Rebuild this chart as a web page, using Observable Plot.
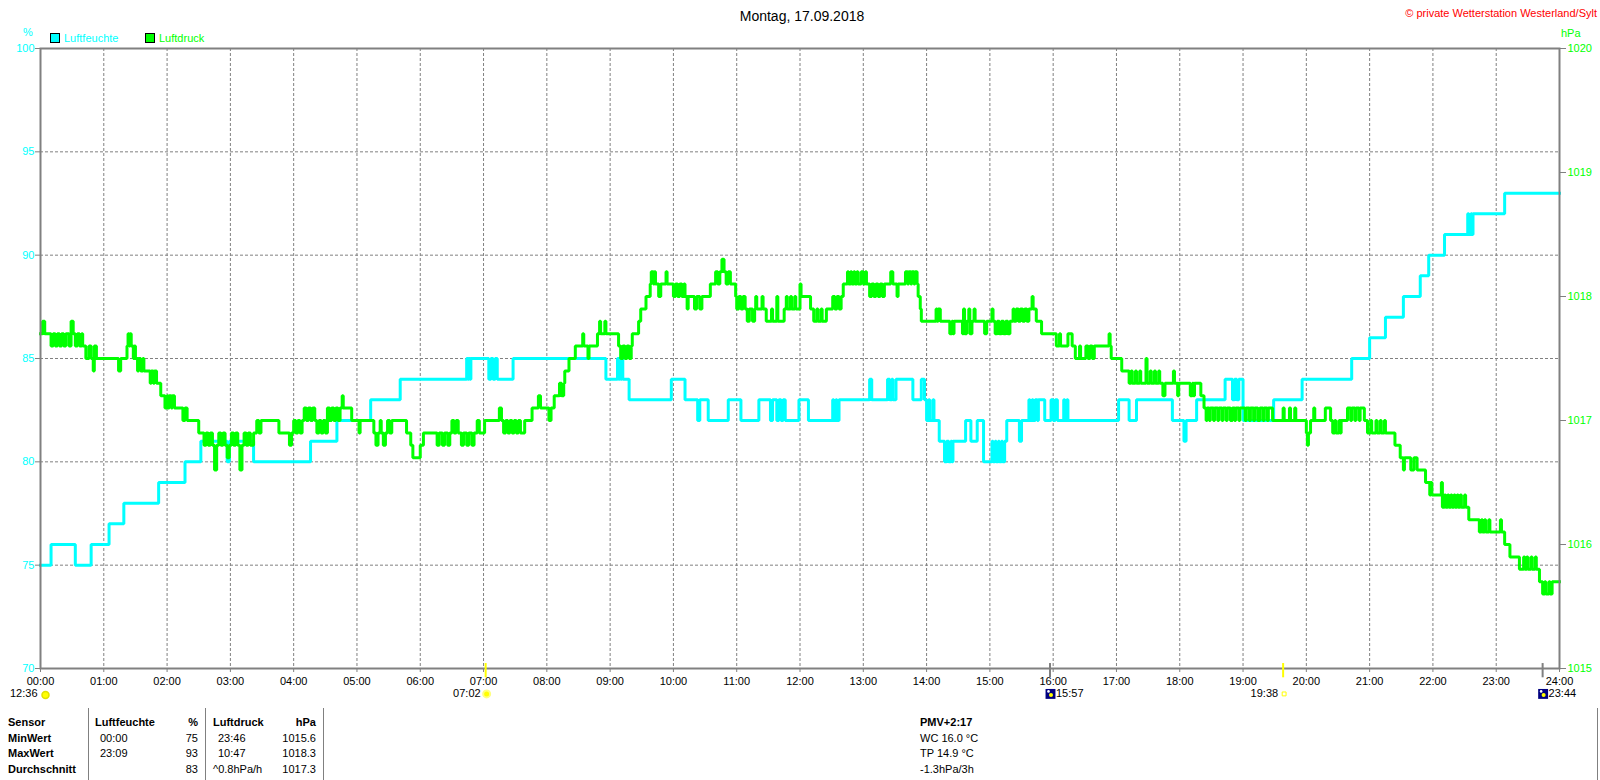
<!DOCTYPE html>
<html>
<head>
<meta charset="utf-8">
<script src="https://cdn.jsdelivr.net/npm/d3@7"></script>
<script src="https://cdn.jsdelivr.net/npm/@observablehq/plot@0.6"></script>
<style>
  body { margin: 0; background: #fff; }
  #wrap { position: relative; width: 1600px; height: 780px; font-family: "Liberation Sans", Arial, sans-serif; font-size: 11px; color: #000; overflow: hidden; }
  #wrap svg { position: absolute; left: 0; top: 0; }
  .t { position: absolute; white-space: nowrap; line-height: 14px; }
  .b { font-weight: bold; }
  .r { text-align: right; }
  .sep { position: absolute; width: 1px; background: #808080; top: 708px; height: 72px; }
  .sq { position: absolute; width: 10px; height: 10px; box-sizing: border-box; border: 1px solid #000; }
</style>
</head>
<body>
<div id="wrap"></div>
<script>
// ---- data ----
const hourTicks = d3.range(0, 1441, 60);               // minutes of the day
const humidityTicks = [70, 75, 80, 85, 90, 95, 100];  // % axis
const pressureTicks = [1015, 1016, 1017, 1018, 1019, 1020]; // hPa axis

// Luftfeuchte (%) : [minute, value] step changes
const humiditySteps = [[0,75],[10,76],[33,75],[48,76],[65,77],[79,78],[112,79],[137,80],[152,81],[177,80],[179,81],[202,80],[256,81],[281,82],[313,83],[341,84],[404,85],[405,84],[406,85],[407,84],[408,85],[425,84],[427,85],[429,84],[431,85],[433,84],[448,85],[536,84],[547,85],[548,84],[549,85],[550,84],[551,85],[552,84],[558,83],[598,84],[611,83],[623,82],[625,83],[633,82],[652,83],[664,82],[681,83],[692,82],[694,83],[698,82],[700,83],[702,82],[704,83],[706,82],[719,83],[728,82],[751,83],[752,82],[754,83],[755,82],[757,83],[786,84],[788,83],[803,84],[805,83],[807,84],[808,83],[811,84],[827,83],[835,84],[838,83],[840,82],[842,83],[843,82],[846,83],[847,82],[852,81],[857,80],[859,81],[861,80],[863,81],[864,80],[865,81],[877,82],[882,81],[888,82],[894,80],[902,81],[903,80],[905,81],[906,80],[908,81],[909,80],[911,81],[912,80],[914,81],[916,82],[928,81],[930,82],[937,83],[938,82],[940,83],[941,82],[943,83],[945,82],[946,83],[952,82],[958,83],[960,82],[962,83],[964,82],[970,83],[971,82],[973,83],[974,82],[1022,83],[1032,82],[1039,83],[1073,82],[1084,81],[1086,82],[1096,83],[1123,84],[1130,83],[1132,84],[1134,83],[1136,84],[1140,82],[1169,83],[1196,84],[1243,85],[1260,86],[1275,87],[1292,88],[1308,89],[1316,90],[1331,91],[1353,92],[1354,91],[1356,92],[1357,91],[1358,92],[1388,93],[1440,93]];

// Luftdruck (hPa) : [minute, value] step changes
const pressureSteps = [[0,1017.7],[2,1017.8],[4,1017.7],[10,1017.6],[12,1017.7],[14,1017.6],[16,1017.7],[18,1017.6],[20,1017.7],[22,1017.6],[24,1017.7],[27,1017.6],[29,1017.8],[31,1017.7],[33,1017.6],[35,1017.7],[37,1017.6],[39,1017.7],[40,1017.6],[43,1017.5],[46,1017.6],[48,1017.5],[50,1017.4],[51,1017.6],[53,1017.5],[74,1017.4],[76,1017.5],[82,1017.6],[83,1017.7],[84,1017.6],[85,1017.7],[86,1017.6],[88,1017.5],[89,1017.6],[90,1017.5],[92,1017.4],[93,1017.5],[95,1017.4],[97,1017.5],[98,1017.4],[104,1017.3],[105,1017.4],[107,1017.3],[108,1017.4],[110,1017.3],[114,1017.2],[118,1017.1],[120,1017.2],[121,1017.1],[122,1017.2],[124,1017.1],[125,1017.2],[127,1017.1],[135,1017.0],[137,1017.1],[139,1017.0],[150,1016.9],[155,1016.8],[157,1016.9],[159,1016.8],[161,1016.9],[163,1016.8],[165,1016.6],[167,1016.8],[169,1016.9],[171,1016.8],[173,1016.9],[175,1016.8],[177,1016.7],[179,1016.8],[181,1016.9],[183,1016.8],[185,1016.9],[187,1016.8],[189,1016.6],[191,1016.8],[193,1016.9],[195,1016.8],[197,1016.9],[199,1016.8],[202,1016.9],[205,1017.0],[207,1016.9],[209,1017.0],[226,1016.9],[236,1016.8],[238,1016.9],[240,1017.0],[242,1016.9],[244,1017.0],[246,1016.9],[248,1017.0],[250,1017.1],[252,1017.0],[254,1017.1],[256,1017.0],[258,1017.1],[260,1017.0],[262,1016.9],[264,1017.0],[266,1016.9],[268,1017.0],[270,1016.9],[272,1017.1],[274,1017.0],[276,1017.1],[278,1017.0],[280,1017.1],[282,1017.0],[284,1017.1],[286,1017.2],[287,1017.1],[295,1017.0],[302,1016.9],[303,1017.0],[316,1016.9],[318,1016.8],[320,1016.9],[322,1017.0],[323,1016.9],[325,1016.8],[327,1016.9],[329,1017.0],[331,1016.9],[333,1017.0],[347,1016.9],[351,1016.8],[353,1016.7],[360,1016.8],[363,1016.9],[376,1016.8],[378,1016.9],[381,1016.8],[383,1016.9],[386,1016.8],[388,1016.9],[390,1017.0],[392,1016.9],[394,1017.0],[396,1016.9],[399,1016.8],[401,1016.9],[404,1016.8],[406,1016.9],[409,1016.8],[411,1016.9],[414,1017.0],[416,1016.9],[421,1017.0],[435,1017.1],[437,1017.0],[439,1016.9],[441,1017.0],[443,1016.9],[445,1017.0],[447,1016.9],[449,1017.0],[451,1016.9],[453,1017.0],[455,1016.9],[459,1017.0],[466,1017.1],[472,1017.2],[474,1017.1],[482,1017.0],[484,1017.1],[487,1017.2],[492,1017.3],[494,1017.2],[496,1017.3],[497,1017.4],[501,1017.5],[507,1017.6],[514,1017.7],[515,1017.6],[519,1017.5],[520,1017.6],[528,1017.7],[530,1017.8],[531,1017.7],[535,1017.8],[536,1017.7],[548,1017.6],[550,1017.5],[552,1017.6],[554,1017.5],[556,1017.6],[558,1017.5],[560,1017.6],[561,1017.7],[567,1017.8],[569,1017.9],[574,1018.0],[578,1018.1],[579,1018.2],[581,1018.1],[582,1018.2],[583,1018.1],[586,1018.0],[588,1018.1],[593,1018.2],[594,1018.1],[600,1018.0],[602,1018.1],[604,1018.0],[606,1018.1],[608,1018.0],[610,1018.1],[611,1018.0],[613,1017.9],[614,1018.0],[620,1017.9],[622,1018.0],[625,1017.9],[627,1018.0],[635,1018.1],[640,1018.2],[642,1018.1],[644,1018.2],[646,1018.3],[648,1018.2],[650,1018.1],[652,1018.2],[654,1018.1],[659,1018.0],[660,1017.9],[662,1018.0],[664,1017.9],[666,1018.0],[668,1017.9],[670,1017.8],[672,1017.9],[675,1017.8],[677,1017.9],[678,1018.0],[679,1017.9],[684,1018.0],[685,1017.9],[688,1017.8],[693,1017.9],[694,1017.8],[698,1018.0],[699,1017.8],[705,1017.9],[707,1018.0],[708,1017.9],[711,1018.0],[712,1017.9],[715,1018.0],[716,1017.9],[720,1018.1],[721,1018.0],[730,1017.9],[733,1017.8],[736,1017.9],[737,1017.8],[740,1017.9],[741,1017.8],[745,1017.9],[751,1018.0],[753,1017.9],[755,1018.0],[757,1017.9],[759,1018.0],[761,1018.1],[765,1018.2],[766,1018.1],[768,1018.2],[769,1018.1],[771,1018.2],[772,1018.1],[774,1018.2],[775,1018.1],[778,1018.2],[780,1018.1],[782,1018.2],[783,1018.1],[786,1018.0],[788,1018.1],[790,1018.0],[792,1018.1],[794,1018.0],[796,1018.1],[798,1018.0],[800,1018.1],[806,1018.2],[808,1018.1],[812,1018.0],[813,1018.1],[820,1018.2],[822,1018.1],[823,1018.2],[825,1018.1],[826,1018.2],[828,1018.1],[829,1018.2],[831,1018.1],[832,1018.0],[834,1017.9],[835,1017.8],[849,1017.9],[850,1017.8],[851,1017.9],[853,1017.8],[862,1017.7],[864,1017.8],[865,1017.7],[866,1017.8],[874,1017.7],[875,1017.9],[876,1017.7],[878,1017.8],[880,1017.9],[881,1017.7],[883,1017.8],[885,1017.9],[886,1017.8],[895,1017.7],[897,1017.8],[902,1017.9],[903,1017.8],[905,1017.7],[907,1017.8],[909,1017.7],[911,1017.8],[913,1017.7],[915,1017.8],[917,1017.7],[919,1017.8],[922,1017.9],[923,1017.8],[925,1017.9],[927,1017.8],[929,1017.9],[931,1017.8],[933,1017.9],[935,1017.8],[937,1017.9],[940,1018.0],[941,1017.9],[944,1017.8],[949,1017.7],[963,1017.6],[966,1017.7],[967,1017.6],[974,1017.7],[978,1017.6],[981,1017.5],[985,1017.6],[986,1017.5],[991,1017.6],[993,1017.5],[995,1017.6],[997,1017.5],[999,1017.6],[1013,1017.7],[1014,1017.6],[1015,1017.5],[1025,1017.4],[1032,1017.3],[1034,1017.4],[1035,1017.3],[1038,1017.4],[1039,1017.3],[1042,1017.4],[1043,1017.3],[1048,1017.5],[1049,1017.3],[1052,1017.4],[1053,1017.3],[1056,1017.4],[1057,1017.3],[1060,1017.4],[1061,1017.3],[1064,1017.2],[1066,1017.3],[1074,1017.4],[1075,1017.3],[1078,1017.2],[1079,1017.3],[1090,1017.2],[1092,1017.3],[1093,1017.2],[1094,1017.3],[1100,1017.2],[1103,1017.1],[1105,1017.0],[1106,1017.1],[1108,1017.0],[1109,1017.1],[1112,1017.0],[1113,1017.1],[1116,1017.0],[1117,1017.1],[1120,1017.0],[1121,1017.1],[1124,1017.0],[1125,1017.1],[1128,1017.0],[1130,1017.1],[1132,1017.0],[1133,1017.1],[1136,1017.0],[1137,1017.1],[1142,1017.0],[1143,1017.1],[1146,1017.0],[1147,1017.1],[1150,1017.0],[1151,1017.1],[1154,1017.0],[1156,1017.1],[1159,1017.0],[1160,1017.1],[1163,1017.0],[1164,1017.1],[1168,1017.0],[1178,1017.1],[1179,1017.0],[1184,1017.1],[1185,1017.0],[1189,1017.1],[1190,1017.0],[1200,1016.9],[1201,1016.8],[1202,1016.9],[1204,1017.0],[1207,1017.1],[1208,1017.0],[1218,1017.1],[1223,1017.0],[1225,1016.9],[1227,1017.0],[1228,1016.9],[1231,1017.0],[1232,1016.9],[1233,1017.0],[1239,1017.1],[1242,1017.0],[1243,1017.1],[1246,1017.0],[1247,1017.1],[1250,1017.0],[1251,1017.1],[1255,1017.0],[1258,1016.9],[1261,1017.0],[1262,1016.9],[1266,1017.0],[1267,1016.9],[1270,1017.0],[1271,1016.9],[1274,1017.0],[1275,1016.9],[1284,1016.8],[1289,1016.7],[1292,1016.6],[1293,1016.7],[1299,1016.6],[1302,1016.7],[1305,1016.6],[1313,1016.5],[1317,1016.4],[1318,1016.5],[1319,1016.4],[1328,1016.5],[1329,1016.3],[1331,1016.4],[1332,1016.3],[1334,1016.4],[1335,1016.3],[1337,1016.4],[1338,1016.3],[1340,1016.4],[1341,1016.3],[1343,1016.4],[1344,1016.3],[1346,1016.4],[1347,1016.3],[1350,1016.4],[1351,1016.3],[1354,1016.2],[1364,1016.1],[1366,1016.2],[1367,1016.1],[1369,1016.2],[1370,1016.1],[1373,1016.2],[1374,1016.1],[1384,1016.2],[1385,1016.1],[1388,1016.0],[1393,1015.9],[1402,1015.8],[1406,1015.9],[1407,1015.8],[1409,1015.9],[1410,1015.8],[1413,1015.9],[1414,1015.8],[1417,1015.9],[1418,1015.8],[1421,1015.7],[1424,1015.6],[1426,1015.7],[1427,1015.6],[1430,1015.7],[1431,1015.6],[1433,1015.7],[1440,1015.7]];

// sun rise / set (07:02, 19:38), moon rise / set (15:57, 23:44)
const sunEvents = [422, 1178];
const sunEventLabels = ["07:02", "19:38"];
const moonEvents = [957, 1424];
const moonEventLabels = ["15:57", "23:44"];
const dayLengthLabel = "12:36";

// ---- scales helpers ----
const pMin = 1015, hMin = 70, hPerP = 6; // 1 hPa = 6 % on the shared axis
const p2h = p => hMin + (p - pMin) * hPerP;
const hh = m => String(m / 60).padStart(2, "0") + ":00";
const rowY = 68.77; // second label row below the axis (in % units)

const cyan = "#00ffff", green = "#00ff00", gray = "#808080";

const chart = Plot.plot({
  width: 1600, height: 780,
  marginLeft: 40, marginRight: 41, marginTop: 48, marginBottom: 112,
  style: { fontFamily: "'Liberation Sans', Arial, sans-serif", fontSize: "11px", background: "#fff", overflow: "visible" },
  x: { domain: [0, 1440] },
  y: { domain: [70, 100] },
  marks: [
    Plot.gridX(hourTicks.slice(1, -1), { stroke: gray, strokeOpacity: 1, strokeDasharray: "3,2" }),
    Plot.gridY(humidityTicks.slice(1, -1), { stroke: gray, strokeOpacity: 1, strokeDasharray: "3,2" }),
    Plot.line(humiditySteps, { x: d => d[0], y: d => d[1], curve: "step-after", stroke: cyan, strokeWidth: 3, strokeLinejoin: "miter", strokeLinecap: "square" }),
    Plot.line(pressureSteps, { x: d => d[0], y: d => p2h(d[1]), curve: "step-after", stroke: green, strokeWidth: 3, strokeLinejoin: "miter", strokeLinecap: "square" }),
    Plot.frame({ stroke: gray, strokeWidth: 2 }),
    Plot.axisY(humidityTicks, { anchor: "left", tickSize: 5, tickPadding: 1, fill: cyan, stroke: gray, label: null }),
    Plot.axisY(pressureTicks.map(p2h), { anchor: "right", tickSize: 6, tickPadding: 2, fill: green, stroke: gray, label: null, tickFormat: d => String(Math.round(pMin + (d - hMin) / hPerP)) }),
    Plot.axisX(hourTicks, { anchor: "bottom", tickSize: 4, tickPadding: 5, fill: "#000", stroke: gray, label: null, tickFormat: hh }),
    // event markers on the time axis
    Plot.ruleX(sunEvents, { x: d => d, y1: 70.24, y2: 69.55, stroke: "#ffff00", strokeWidth: 2 }),
    Plot.ruleX(moonEvents, { x: d => d, y1: 70.24, y2: 69.55, stroke: gray, strokeWidth: 2 }),
    // second label row
    Plot.text([dayLengthLabel], { x: 0, y: rowY, text: d => d, textAnchor: "end", dx: -3, fill: "#000" }),
    Plot.dot([0], { x: d => d, y: rowY, dx: 5, dy: 1, r: 3.5, fill: "#ffff00", stroke: "#e0e000" }),
    Plot.text(sunEvents, { x: d => d, y: rowY, text: (d, i) => sunEventLabels[i], textAnchor: "end", dx: -5, fill: "#000" }),
    Plot.dot(sunEvents.slice(0, 1), { x: d => d, y: rowY, dx: 1, r: 3.5, fill: "#ffff00", stroke: "#ffff80", strokeWidth: 2 }),
    Plot.dot(sunEvents.slice(1), { x: d => d, y: rowY, dx: 1, symbol: "square", r: 2.2, fill: "none", stroke: "#ffff00", strokeWidth: 1 }),
    Plot.dot(moonEvents, { x: d => d, y: rowY, dx: 0.5, symbol: "square", r: 5.6, fill: "#000080" }),
    Plot.dot(moonEvents, { x: d => d, y: rowY, dx: 1, dy: 1, r: 2, fill: "#ffff00" }),
    Plot.dot(moonEvents, { x: d => d, y: rowY, dx: -1.5, dy: -2.5, r: 1.3, fill: "#ffffff" }),
    Plot.text(moonEvents, { x: d => d, y: rowY, text: (d, i) => moonEventLabels[i], textAnchor: "start", dx: 6, fill: "#000" })
  ]
});

const wrap = document.getElementById("wrap");
wrap.appendChild(chart);

function addText(txt, left, top, cls = "", extra = {}) {
  const d = document.createElement("div");
  d.className = "t " + cls;
  d.textContent = txt;
  d.style.left = left + "px";
  d.style.top = top + "px";
  Object.assign(d.style, extra);
  wrap.appendChild(d);
  return d;
}
function addRight(txt, right, top, cls = "", extra = {}) {
  return addText(txt, right - 200, top, "r " + cls, Object.assign({ width: "200px" }, extra));
}

// title, copyright
addText("Montag, 17.09.2018", 0, 7, "", { width: "1604px", textAlign: "center", fontSize: "14px", lineHeight: "18px" });
addText("\u00a9 private Wetterstation Westerland/Sylt", 0, 6, "", { left: "auto", right: "3px", color: "#ff0000" });

// axis units
addText("%", 23, 25, "", { color: cyan });
addText("hPa", 1561, 26, "", { color: green });

// legend
const sq1 = document.createElement("div"); sq1.className = "sq"; Object.assign(sq1.style, { left: "50px", top: "33px", background: cyan }); wrap.appendChild(sq1);
addText("Luftfeuchte", 64, 31, "", { color: cyan });
const sq2 = document.createElement("div"); sq2.className = "sq"; Object.assign(sq2.style, { left: "145px", top: "33px", background: green }); wrap.appendChild(sq2);
addText("Luftdruck", 159, 31, "", { color: green });

// statistics table
const rows = [715, 731, 746, 762];
const sensorRows = ["Sensor", "MinWert", "MaxWert", "Durchschnitt"];
const humTimes = ["00:00", "23:09", ""];
const humVals = ["75", "93", "83"];
const presTimes = ["23:46", "10:47", "^0.8hPa/h"];
const presVals = ["1015.6", "1018.3", "1017.3"];
const pmvLines = ["PMV+2:17", "WC 16.0 \u00b0C", "TP 14.9 \u00b0C", "-1.3hPa/3h"];

sensorRows.forEach((s, i) => addText(s, 8, rows[i], "b"));
addText("Luftfeuchte", 95, rows[0], "b");
addRight("%", 198, rows[0], "b");
addText("Luftdruck", 213, rows[0], "b");
addRight("hPa", 316, rows[0], "b");
humTimes.forEach((t, i) => t && addText(t, 100, rows[i + 1]));
humVals.forEach((v, i) => addRight(v, 198, rows[i + 1]));
presTimes.forEach((t, i) => addText(t, i < 2 ? 218 : 213, rows[i + 1]));
presVals.forEach((v, i) => addRight(v, 316, rows[i + 1]));
pmvLines.forEach((t, i) => addText(t, 920, rows[i], i === 0 ? "b" : ""));
[88, 205, 323, 1597].forEach(x => { const s = document.createElement("div"); s.className = "sep"; s.style.left = x + "px"; wrap.appendChild(s); });
</script>
</body>
</html>
